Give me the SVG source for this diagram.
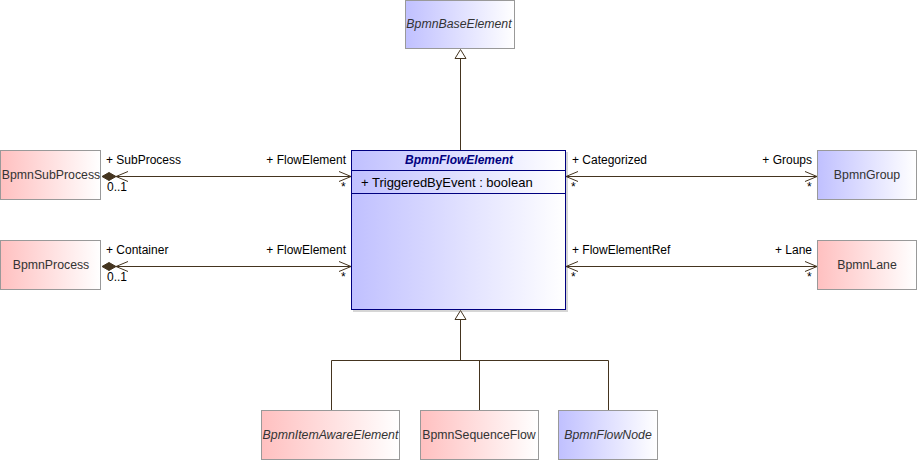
<svg xmlns="http://www.w3.org/2000/svg" width="917" height="460" viewBox="0 0 917 460">
<defs>
<linearGradient id="gp" x1="0" y1="0" x2="1" y2="0"><stop offset="0" stop-color="#ffc0c0"/><stop offset="1" stop-color="#ffffff"/></linearGradient>
<linearGradient id="gb" x1="0" y1="0" x2="1" y2="0"><stop offset="0" stop-color="#c0c0ff"/><stop offset="1" stop-color="#ffffff"/></linearGradient>
<style>
.box{stroke:#999999;stroke-width:1}
.t{font-family:"Liberation Sans",Arial,sans-serif;font-size:12.3px;fill:#333333}
.i{font-style:italic}
.l{font-family:"Liberation Sans",Arial,sans-serif;font-size:12px;fill:#000000}
.a{font-family:"Liberation Sans",Arial,sans-serif;font-size:13px;fill:#000000}
.c{stroke:#44341f;stroke-width:1;fill:none}
.d{fill:#44341f;stroke:#44341f}
.h{fill:#ffffff;stroke:#44341f}
</style>
</defs>
<rect width="917" height="460" fill="#ffffff"/>
<g id="BpmnBaseElement"><rect class="box" x="405.5" y="0.5" width="109" height="48" fill="url(#gb)"/><text class="t i" x="459" y="28" text-anchor="middle">BpmnBaseElement</text></g>
<g id="BpmnFlowElement">
<rect x="353" y="152" width="215" height="160" fill="#999999" opacity="0.4"/>
<rect x="351.5" y="150.5" width="214" height="159" fill="url(#gb)" stroke="#000080"/>
<line x1="351.5" y1="170.5" x2="565.5" y2="170.5" stroke="#000080"/>
<line x1="351.5" y1="193.5" x2="565.5" y2="193.5" stroke="#000080"/>
<text x="459" y="164" text-anchor="middle" font-family="Liberation Sans,Arial,sans-serif" font-size="12" font-weight="bold" font-style="italic" fill="#000080">BpmnFlowElement</text>
<text class="a" x="361" y="187">+ TriggeredByEvent : boolean</text>
</g>
<g id="BpmnSubProcess"><rect class="box" x="0.5" y="150.5" width="100" height="49" fill="url(#gp)"/><text class="t" x="51" y="179" text-anchor="middle">BpmnSubProcess</text></g>
<g id="BpmnProcess"><rect class="box" x="0.5" y="240.5" width="100" height="49" fill="url(#gp)"/><text class="t" x="51" y="269" text-anchor="middle">BpmnProcess</text></g>
<g id="BpmnGroup"><rect class="box" x="817.5" y="150.5" width="99" height="49" fill="url(#gb)"/><text class="t" x="867" y="179" text-anchor="middle">BpmnGroup</text></g>
<g id="BpmnLane"><rect class="box" x="817.5" y="240.5" width="99" height="49" fill="url(#gp)"/><text class="t" x="867" y="269" text-anchor="middle">BpmnLane</text></g>
<g id="BpmnItemAwareElement"><rect class="box" x="261.5" y="410.5" width="138" height="49" fill="url(#gp)"/><text class="t i" x="330.5" y="439" text-anchor="middle">BpmnItemAwareElement</text></g>
<g id="BpmnSequenceFlow"><rect class="box" x="420.5" y="410.5" width="118" height="49" fill="url(#gp)"/><text class="t" x="479" y="439" text-anchor="middle">BpmnSequenceFlow</text></g>
<g id="BpmnFlowNode"><rect class="box" x="558.5" y="410.5" width="99" height="49" fill="url(#gb)"/><text class="t i" x="608" y="439" text-anchor="middle">BpmnFlowNode</text></g>
<g id="connectors">
<line class="c" x1="460.5" y1="58" x2="460.5" y2="150"/>
<polygon class="h" points="460.5,49.5 455,58.5 466,58.5"/>
<polyline class="c" points="331.5,410 331.5,360.5 608.5,360.5 608.5,410"/>
<line class="c" x1="479.5" y1="360.5" x2="479.5" y2="410"/>
<line class="c" x1="460.5" y1="360.5" x2="460.5" y2="319"/>
<polygon class="h" points="460.5,310.5 455,319.5 466,319.5"/>
<line class="c" x1="116" y1="176.5" x2="351" y2="176.5"/>
<polygon class="d" points="102,176.5 109,172.5 116,176.5 109,180.5"/>
<polyline class="c" points="128,171.5 116,176.5 128,181.5"/>
<polyline class="c" points="339,171.5 351,176.5 339,181.5"/>
<text class="l" x="106" y="164">+ SubProcess</text>
<text class="l" x="346" y="164" text-anchor="end">+ FlowElement</text>
<text class="l" x="107" y="191">0..1</text>
<text class="l" x="341" y="191">*</text>
<line class="c" x1="116" y1="266.5" x2="351" y2="266.5"/>
<polygon class="d" points="102,266.5 109,262.5 116,266.5 109,270.5"/>
<polyline class="c" points="128,261.5 116,266.5 128,271.5"/>
<polyline class="c" points="339,261.5 351,266.5 339,271.5"/>
<text class="l" x="106" y="254">+ Container</text>
<text class="l" x="346" y="254" text-anchor="end">+ FlowElement</text>
<text class="l" x="107" y="281">0..1</text>
<text class="l" x="341" y="281">*</text>
<line class="c" x1="566" y1="176.5" x2="817" y2="176.5"/>
<polyline class="c" points="578,171.5 566,176.5 578,181.5"/>
<polyline class="c" points="805,171.5 817,176.5 805,181.5"/>
<text class="l" x="572" y="164">+ Categorized</text>
<text class="l" x="812" y="164" text-anchor="end">+ Groups</text>
<text class="l" x="571" y="191">*</text>
<text class="l" x="807" y="191">*</text>
<line class="c" x1="566" y1="266.5" x2="817" y2="266.5"/>
<polyline class="c" points="578,261.5 566,266.5 578,271.5"/>
<polyline class="c" points="805,261.5 817,266.5 805,271.5"/>
<text class="l" x="572" y="254">+ FlowElementRef</text>
<text class="l" x="812" y="254" text-anchor="end">+ Lane</text>
<text class="l" x="571" y="281">*</text>
<text class="l" x="807" y="281">*</text>
</g>
</svg>
